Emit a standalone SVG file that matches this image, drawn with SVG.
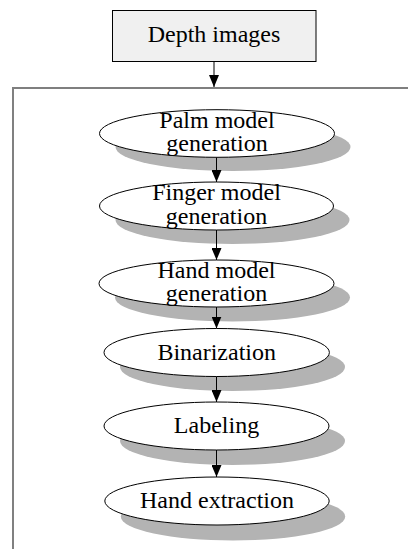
<svg xmlns="http://www.w3.org/2000/svg" width="408" height="549" viewBox="0 0 408 549">
  <style>
    .lbl { font-family: "Liberation Serif", "Times New Roman", serif; font-size: 24px; fill: #000; text-anchor: middle; }
    .node { fill: #fff; stroke: #000; stroke-width: 1; }
    .shadow { fill: #b3b3b3; stroke: none; }
    .box { fill: #f0f0f0; stroke: #000; stroke-width: 1; }
    .link { stroke: #000; stroke-width: 1; fill: none; }
  </style>
  <defs>
    <!-- solid triangular head, tip at the end of the line -->
    <marker id="arrow" markerWidth="12" markerHeight="10" refX="12" refY="5" orient="auto" markerUnits="userSpaceOnUse" viewBox="0 0 12 10">
      <path d="M0,0 L12,5 L0,10 Z" fill="#000"/>
    </marker>
  </defs>
  <rect width="408" height="549" fill="#fff"/>

  <!-- enclosing frame: top rule and left rule -->
  <g id="frame">
    <line x1="12" y1="88" x2="408" y2="88" stroke="#000" stroke-width="1.2"/>
    <line x1="13" y1="88" x2="13" y2="549" stroke="#808080" stroke-width="2"/>
  </g>

  <g id="depth-images">
    <rect class="box" x="112.5" y="10.5" width="203.5" height="51"/>
    <text class="lbl" x="214" y="42">Depth images</text>
  </g>

  <!-- shadows sit behind everything -->
  <g id="shadows">
    <ellipse class="shadow" cx="233" cy="147" rx="117.5" ry="24"/>
    <ellipse class="shadow" cx="232.5" cy="220" rx="117" ry="24"/>
    <ellipse class="shadow" cx="232.5" cy="297.5" rx="117.5" ry="24"/>
    <ellipse class="shadow" cx="232.5" cy="367" rx="112.5" ry="24"/>
    <ellipse class="shadow" cx="232.5" cy="441" rx="112.5" ry="24"/>
    <ellipse class="shadow" cx="233" cy="516.5" rx="112.2" ry="24"/>
  </g>

  <g id="connectors">
    <line class="link" x1="214" y1="62" x2="214" y2="87" marker-end="url(#arrow)"/>
    <line class="link" x1="216.5" y1="157.5" x2="216.5" y2="182" marker-end="url(#arrow)"/>
    <line class="link" x1="216.5" y1="230" x2="216.5" y2="260" marker-end="url(#arrow)"/>
    <line class="link" x1="216.5" y1="307" x2="216.5" y2="328.5" marker-end="url(#arrow)"/>
    <line class="link" x1="216.5" y1="376.5" x2="216.5" y2="402" marker-end="url(#arrow)"/>
    <line class="link" x1="216.5" y1="450" x2="216.5" y2="477" marker-end="url(#arrow)"/>
  </g>

  <g id="palm-model">
    <ellipse class="node" cx="217" cy="133.5" rx="117.5" ry="23.8"/>
    <text class="lbl" x="217" y="127.5">Palm model</text>
    <text class="lbl" x="217" y="151">generation</text>
  </g>

  <g id="finger-model">
    <ellipse class="node" cx="216.5" cy="206" rx="117" ry="24"/>
    <text class="lbl" x="216.5" y="200">Finger model</text>
    <text class="lbl" x="216.5" y="223.5">generation</text>
  </g>

  <g id="hand-model">
    <ellipse class="node" cx="216.5" cy="283.5" rx="117.5" ry="23.5"/>
    <text class="lbl" x="216.5" y="277.5">Hand model</text>
    <text class="lbl" x="216.5" y="301">generation</text>
  </g>

  <g id="binarization">
    <ellipse class="node" cx="216.7" cy="352.5" rx="112.7" ry="24"/>
    <text class="lbl" x="216.7" y="360">Binarization</text>
  </g>

  <g id="labeling">
    <ellipse class="node" cx="216.5" cy="426" rx="112.5" ry="24"/>
    <text class="lbl" x="216.5" y="433">Labeling</text>
  </g>

  <g id="hand-extraction">
    <ellipse class="node" cx="217" cy="501" rx="112.2" ry="24"/>
    <text class="lbl" x="217" y="507.5">Hand extraction</text>
  </g>
</svg>
